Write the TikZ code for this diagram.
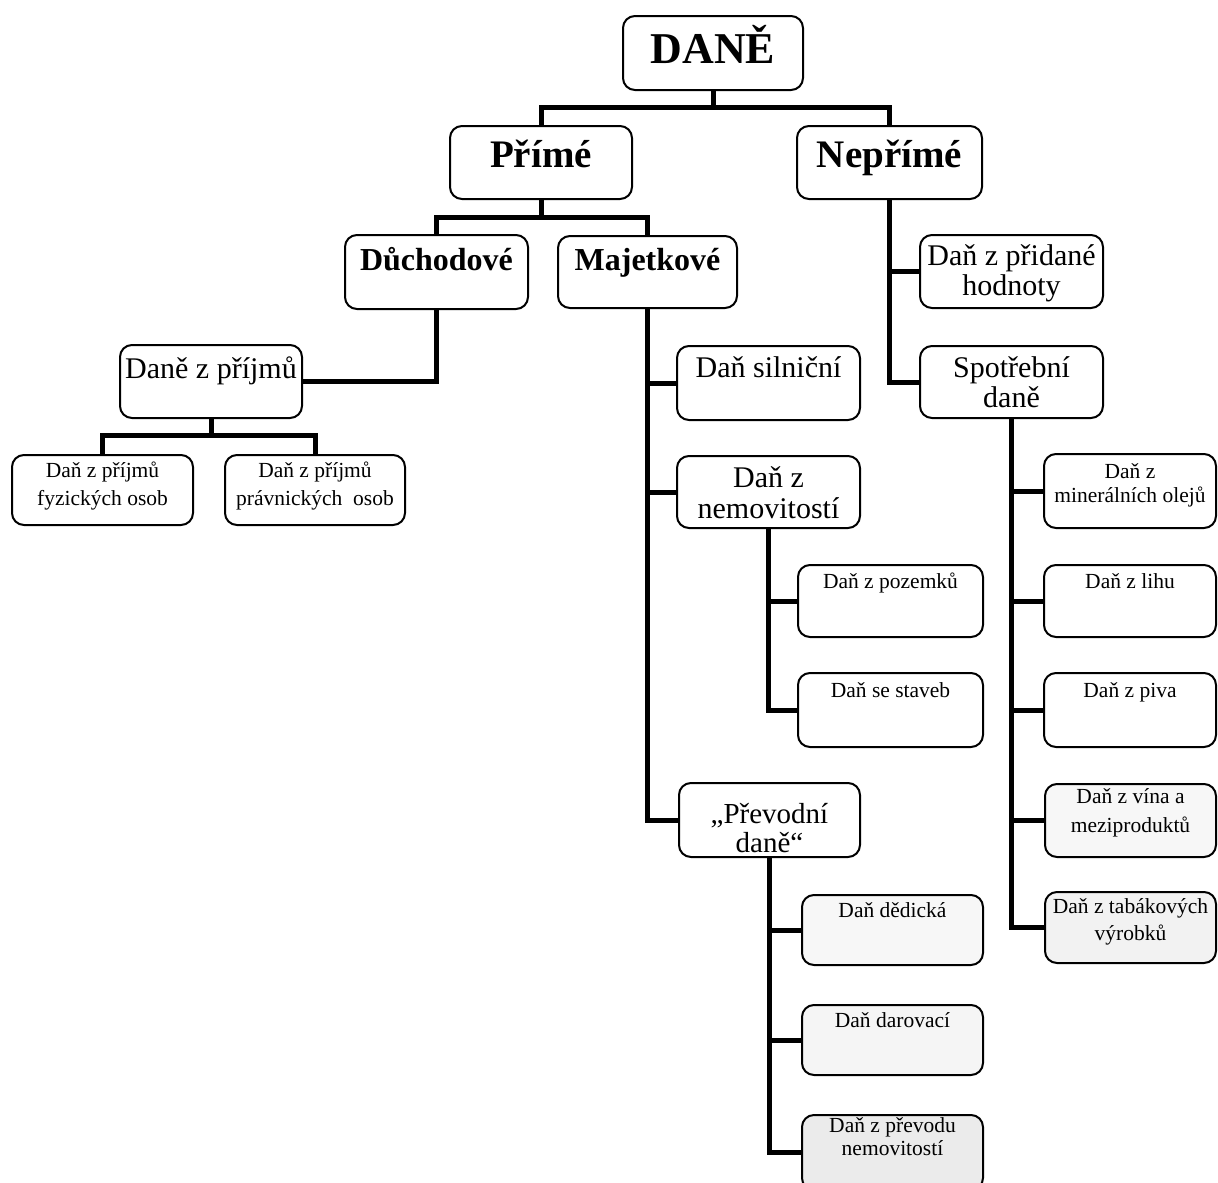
\documentclass[tikz,border=0pt]{standalone}
\usepackage{fontspec}
\setmainfont{Liberation Serif}
\usetikzlibrary{backgrounds}
\newcommand{\bx}[4]{\parbox[c][#2pt][t]{#1pt}{\centering\rule{0pt}{#3pt}#4\par}}
\begin{document}
\begin{tikzpicture}[x=1pt,y=-1pt,
  box/.style={draw, line width=2pt, rounded corners=12pt, fill=white, inner sep=0pt},
  conn/.style={line width=5pt, line join=miter, line cap=rect},
  fbig/.style={font=\fontsize{44}{50}\selectfont\bfseries},
  flev/.style={font=\fontsize{39}{44}\selectfont\bfseries},
  fsub/.style={font=\fontsize{32}{36}\selectfont\bfseries},
  fmid/.style={font=\fontsize{30}{30}\selectfont},
  fsmall/.style={font=\fontsize{21.5}{24}\selectfont}]
\useasboundingbox (0,0) rectangle (1218,1183);
\clip (0,0) rectangle (1218,1183);

\node[box, fbig] (DANE) at (713,53) {\bx{180}{74}{47}{DANĚ}};
\node[box, flev] (Prime) at (541,162.5) {\bx{182}{73}{41}{Přímé}};
\node[box, flev] (Neprime) at (889.5,162.5) {\bx{185}{73}{41}{Nepřímé}};
\node[box, fsub] (Duchodove) at (436.5,272) {\bx{183}{74}{35}{Důchodové}};
\node[box, fsub] (Majetkove) at (647.5,272) {\bx{179}{72}{34}{Majetkové}};
\node[box, fmid] (Prijmy) at (211,381.5) {\bx{182}{73}{33}{Daně z příjmů}};
\node[box, fsmall, font=\fontsize{21.5}{28}\selectfont] (FO) at (102.5,490) {\bx{181}{70}{22}{Daň z příjmů\\fyzických osob}};
\node[box, fsmall, font=\fontsize{21.5}{28}\selectfont] (PO) at (315,490) {\bx{180}{70}{22}{Daň z příjmů\\právnických\ \ osob}};
\node[box, fmid] (Silnicni) at (768.5,383) {\bx{183}{74}{31}{Daň silniční}};
\node[box, fmid, font=\fontsize{30}{31}\selectfont] (Nemovitosti) at (768.5,492) {\bx{183}{72}{31}{Daň z\\nemovitostí}};
\node[box, fsmall] (Pozemky) at (890.5,601) {\bx{185}{72}{23}{Daň z pozemků}};
\node[box, fsmall] (Staveb) at (890.5,710) {\bx{185}{74}{24}{Daň se staveb}};
\node[box, fmid, font=\fontsize{29}{29}\selectfont] (Prevodni) at (769.5,820) {\bx{181}{74}{40}{„Převodní\\daně“}};
\node[box, fsmall, fill=black!3] (Dedicka) at (892.5,930) {\bx{181}{70}{22}{Daň dědická}};
\node[box, fsmall, fill=black!4] (Darovaci) at (892.5,1040) {\bx{181}{70}{22}{Daň darovací}};
\node[box, fsmall, fill=black!8, font=\fontsize{21.5}{23}\selectfont] (Prevodu) at (892.5,1152.5) {\bx{181}{75}{17}{Daň z převodu\\nemovitostí}};
\node[box, fmid] (DPH) at (1011.5,271.5) {\bx{183}{73}{30}{Daň z přidané\\hodnoty}};
\node[box, fmid] (Spotrebni) at (1011.5,382) {\bx{183}{72}{31}{Spotřební\\daně}};
\node[box, fsmall] (Mineral) at (1130,491) {\bx{172}{74}{24}{Daň z\\minerálních olejů}};
\node[box, fsmall] (Lih) at (1130,601) {\bx{172}{72}{23}{Daň z lihu}};
\node[box, fsmall] (Pivo) at (1130,710) {\bx{172}{74}{24}{Daň z piva}};
\node[box, fsmall, fill=black!3, font=\fontsize{21.5}{29}\selectfont] (Vino) at (1130.5,820.5) {\bx{171}{73}{19}{Daň z vína a\\meziproduktů}};
\node[box, fsmall, fill=black!5, font=\fontsize{21.5}{27}\selectfont] (Tabak) at (1130.5,927.5) {\bx{171}{71}{21}{Daň z tabákových\\výrobků}};

\coordinate (j1) at (713,107);
\coordinate (j2) at (541,217);
\coordinate (j3) at (211,435);

\begin{pgfonlayer}{background}
\fill[white] (0,0) rectangle (1218,1183);
\draw[conn] (DANE.south) -- (j1);
\draw[conn] (Prime.north) |- (j1) -| (Neprime.north);
\draw[conn] (Prime.south) -- (j2);
\draw[conn] (Duchodove.north) |- (j2) -| (Majetkove.north);
\draw[conn] (Duchodove.south) |- (Prijmy.east);
\draw[conn] (Prijmy.south) -- (j3);
\draw[conn] (FO.north) |- (j3) -| (PO.north);
\draw[conn] (Majetkove.south) |- (Silnicni.west);
\draw[conn] (Majetkove.south) |- (Nemovitosti.west);
\draw[conn] (Majetkove.south) |- (Prevodni.west);
\draw[conn] (Nemovitosti.south) |- (Pozemky.west);
\draw[conn] (Nemovitosti.south) |- (Staveb.west);
\draw[conn] (Prevodni.south) |- (Dedicka.west);
\draw[conn] (Prevodni.south) |- (Darovaci.west);
\draw[conn] (Prevodni.south) |- (Prevodu.west);
\draw[conn] (Neprime.south) |- (DPH.west);
\draw[conn] (Neprime.south) |- (Spotrebni.west);
\draw[conn] (Spotrebni.south) |- (Mineral.west);
\draw[conn] (Spotrebni.south) |- (Lih.west);
\draw[conn] (Spotrebni.south) |- (Pivo.west);
\draw[conn] (Spotrebni.south) |- (Vino.west);
\draw[conn] (Spotrebni.south) |- (Tabak.west);
\end{pgfonlayer}
\end{tikzpicture}
\end{document}
